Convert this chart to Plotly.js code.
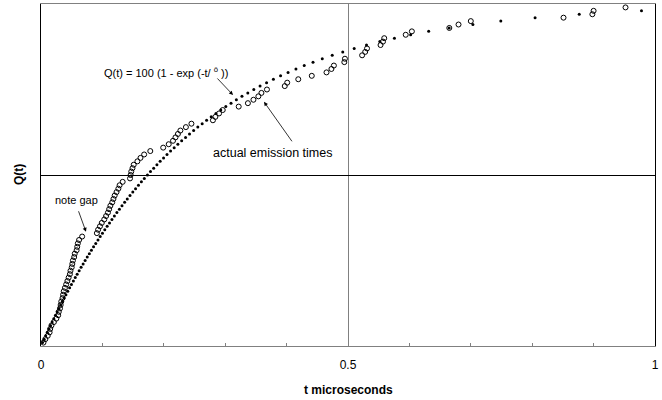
<!DOCTYPE html>
<html>
<head>
<meta charset="utf-8">
<script src="https://cdn.plot.ly/plotly-3.0.1.min.js"></script>
<style>
html,body{margin:0;padding:0;background:#fff;}
#chart{width:662px;height:400px;}
</style>
</head>
<body>
<div id="chart"></div>
<script>
// Q(t) level of each emission (count)
const emissionCount = [
  1,2,3,4,5,6,7,8,9,10,11,12,13,14,15,16,17,18,19,20,
  21,22,23,24,25,26,27,28,29,30,31,32,33,34,35,36,37,38,39,40,
  41,42,43,44,45,46,47,48,49,50,51,52,53,54,55,56,57,58,59,60,
  61,62,63,64,65,66,67,68,69,70,71,72,73,74,75,76,77,78,79,80,
  81,82,83,84,85,86,87,88,89,90,91,92,93,94,95,96,97,98,99
];
// actual emission times (microseconds)
const actualTimes = [
  0.004,0.007,0.011,0.014,0.015,0.017,0.021,0.025,0.028,0.029,
  0.031,0.032,0.033,0.035,0.036,0.037,0.039,0.041,0.043,0.045,
  0.047,0.048,0.050,0.051,0.052,0.054,0.055,0.058,0.059,0.060,
  0.062,0.067,
  0.091,0.093,0.096,0.099,0.103,0.106,0.109,0.111,0.113,0.116,
  0.118,0.120,0.123,0.126,0.128,0.133,0.145,0.146,0.147,0.149,
  0.151,0.157,0.162,0.168,0.178,
  0.199,0.208,0.215,0.219,0.223,0.227,0.236,0.245,
  0.280,0.284,0.290,0.296,
  0.322,0.337,0.346,0.354,0.359,0.368,
  0.397,0.401,0.419,0.441,0.465,0.473,0.477,0.494,0.495,
  0.523,0.528,0.531,0.553,0.557,0.559,0.594,0.604,
  0.665,0.680,0.700,0.851,0.898,0.900,0.952
];
// model curve levels and times, Q(t) = 100 (1 - exp(-t/tau))
const modelCount = [
  1,2,3,4,5,6,7,8,9,10,11,12,13,14,15,16,17,18,19,20,
  21,22,23,24,25,26,27,28,29,30,31,32,33,34,35,36,37,38,39,40,
  41,42,43,44,45,46,47,48,49,50,51,52,53,54,55,56,57,58,59,60,
  61,62,63,64,65,66,67,68,69,70,71,72,73,74,75,76,77,78,79,80,
  81,82,83,84,85,86,87,88,89,90,91,92,93,94,95,96,97,98
];
const modelTimes = [
  0.0025,0.0051,0.0076,0.0102,0.0128,0.0155,0.0181,0.0208,0.0236,0.0263,
  0.0291,0.0320,0.0348,0.0377,0.0406,0.0436,0.0466,0.0496,0.0527,0.0558,
  0.0589,0.0621,0.0653,0.0686,0.0719,0.0753,0.0787,0.0821,0.0856,0.0892,
  0.0928,0.0964,0.1001,0.1039,0.1077,0.1116,0.1155,0.1195,0.1236,0.1277,
  0.1319,0.1362,0.1405,0.1450,0.1495,0.1540,0.1587,0.1635,0.1683,0.1733,
  0.1783,0.1835,0.1888,0.1941,0.1996,0.2052,0.2110,0.2169,0.2229,0.2291,
  0.2354,0.2419,0.2486,0.2554,0.2625,0.2697,0.2772,0.2849,0.2928,0.3010,
  0.3095,0.3182,0.3273,0.3368,0.3466,0.3568,0.3674,0.3785,0.3902,0.4024,
  0.4152,0.4287,0.4430,0.4581,0.4743,0.4915,0.5101,0.5301,0.5518,0.5756,
  0.6020,0.6314,0.6648,0.7034,0.7489,0.8047,0.8766,0.9780
];
const xTickVals = [0, 0.5, 1];
const xTickText = ['0', '0.5', '1'];

const FONT = 'Liberation Sans, Arial, Helvetica, sans-serif';

const traces = [
  {
    x: modelTimes, y: modelCount, type: 'scatter', mode: 'markers',
    marker: {symbol: 'circle', size: 3, color: '#000'},
    hoverinfo: 'skip'
  },
  {
    x: actualTimes, y: emissionCount, type: 'scatter', mode: 'markers',
    marker: {symbol: 'circle-open', size: 5, color: '#000', line: {width: 1, color: '#000'}},
    hoverinfo: 'skip'
  }
];

const layout = {
  width: 662, height: 400,
  margin: {l: 41, r: 7, t: 4, b: 54, pad: 0},
  paper_bgcolor: '#fff', plot_bgcolor: '#fff',
  showlegend: false,
  font: {family: FONT, size: 11, color: '#000'},
  xaxis: {
    range: [0, 1], tickvals: xTickVals, ticktext: xTickText,
    ticks: 'inside', ticklen: 3, tickcolor: '#808080', tickwidth: 1,
    ticklabelstandoff: 8,
    tickfont: {family: FONT, size: 12, color: '#000'},
    showgrid: true, gridcolor: '#808080', gridwidth: 1,
    zeroline: false, showline: true, linecolor: '#808080', linewidth: 1, mirror: true,
    minor: {ticks: 'inside', dtick: 0.1, tick0: 0, ticklen: 3, tickcolor: '#808080', showgrid: false},
    fixedrange: true
  },
  yaxis: {
    range: [0, 100], tickvals: [50], showticklabels: false, ticks: '',
    showgrid: true, gridcolor: '#000', gridwidth: 1,
    zeroline: false, showline: true, linecolor: '#000', linewidth: 1, mirror: true,
    fixedrange: true
  },
  annotations: [
    {xref: 'paper', yref: 'paper', x: 0.5, y: -0.13, xanchor: 'center', yanchor: 'middle',
     text: '<b>t microseconds</b>', showarrow: false, font: {family: FONT, size: 12, color: '#000'}},
    {xref: 'paper', yref: 'paper', x: -0.0358, y: 0.5, xanchor: 'center', yanchor: 'middle',
     text: '<b>Q(t)</b>', textangle: -90, showarrow: false, font: {family: FONT, size: 12, color: '#000'}},
    {xref: 'x', yref: 'y', x: 0.099, y: 80.1, xanchor: 'left', yanchor: 'middle',
     text: 'Q(t) = 100 (1 - exp (-t/ <sup>ô</sup> ))', showarrow: false, font: {family: FONT, size: 11, color: '#000'}},
    {xref: 'x', yref: 'y', x: 0.2765, y: 56.5, xanchor: 'left', yanchor: 'middle',
     text: 'actual emission times', showarrow: false, font: {family: FONT, size: 12.5, color: '#000'}},
    {xref: 'x', yref: 'y', x: 0.0195, y: 42.8, xanchor: 'left', yanchor: 'middle',
     text: 'note gap', showarrow: false, font: {family: FONT, size: 11, color: '#000'}},
    {xref: 'x', yref: 'y', x: 0.3127, y: 73.4, ax: -17, ay: -18, text: '',
     showarrow: true, arrowhead: 2, arrowsize: 1, arrowwidth: 0.8, arrowcolor: '#000'},
    {xref: 'x', yref: 'y', x: 0.3632, y: 71.4, ax: 29, ay: 41, text: '',
     showarrow: true, arrowhead: 2, arrowsize: 1, arrowwidth: 0.8, arrowcolor: '#000'},
    {xref: 'x', yref: 'y', x: 0.0733, y: 33.4, ax: -8, ay: -22, text: '',
     showarrow: true, arrowhead: 2, arrowsize: 1, arrowwidth: 0.8, arrowcolor: '#000'}
  ]
};

Plotly.newPlot('chart', traces, layout, {displayModeBar: false, staticPlot: true});
</script>
</body>
</html>
